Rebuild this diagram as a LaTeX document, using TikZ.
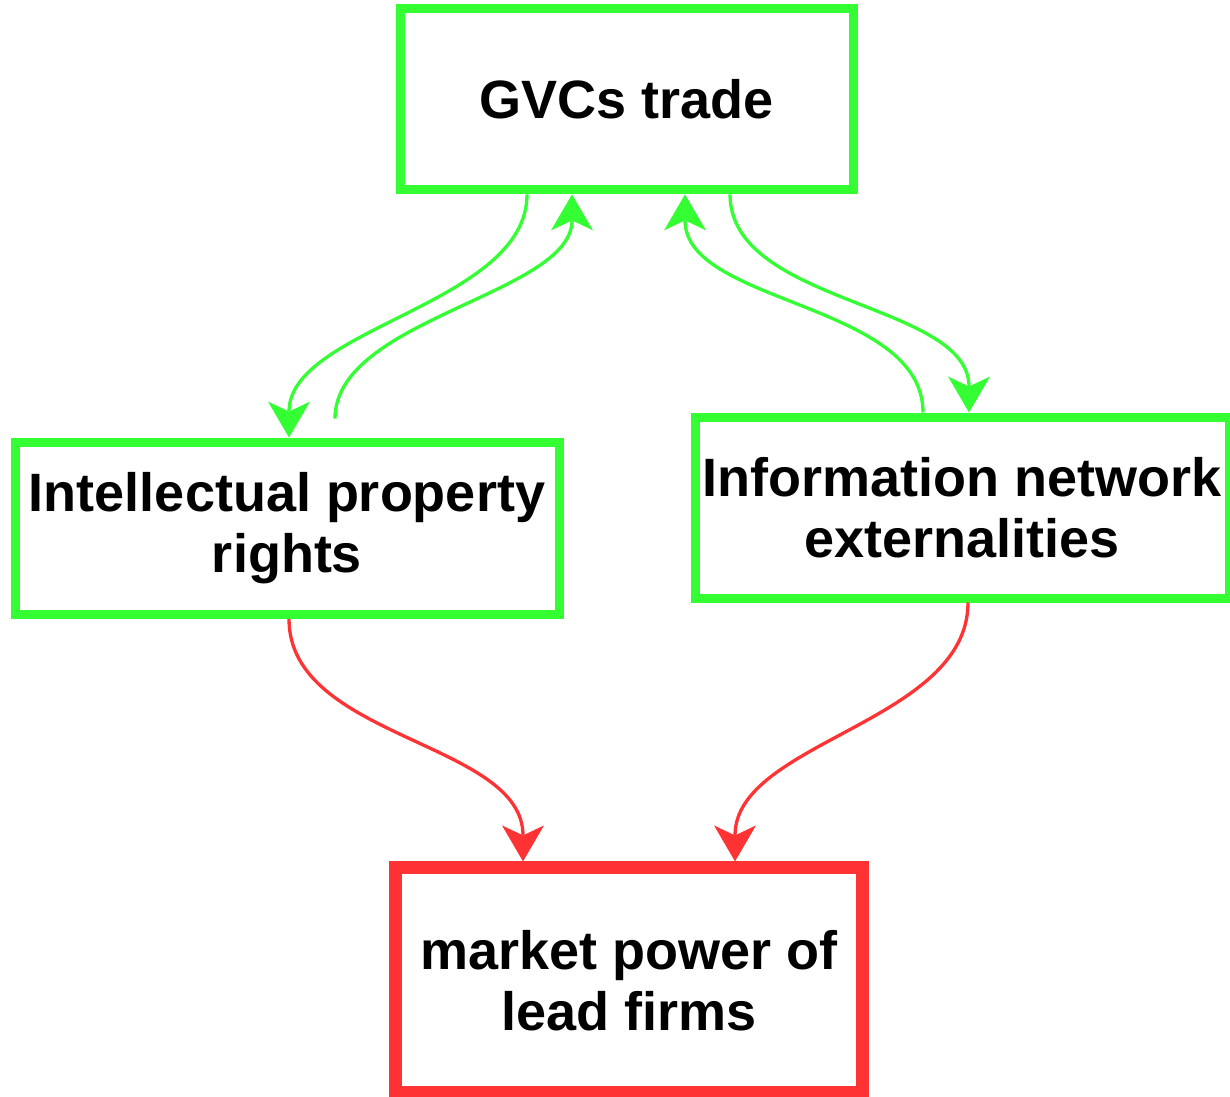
\documentclass[tikz,border=0pt]{standalone}
\usepackage{fontspec}
\setmainfont{Liberation Sans}
\usetikzlibrary{arrows.meta}
\definecolor{boxgreen}{HTML}{33FF33}
\definecolor{boxred}{HTML}{FF3333}
\tikzset{
  box/.style={draw, rectangle, inner sep=0pt, align=center, fill=white,
    font=\fontsize{54}{61}\selectfont\bfseries},
  greenbox/.style={box, draw=boxgreen, line width=9pt},
  redbox/.style={box, draw=boxred, line width=13pt},
  link/.style={line width=3.3pt,
    -{Stealth[length=36pt, width=42pt, inset=10pt, line width=0pt]}},
  greenlink/.style={link, draw=boxgreen},
  redlink/.style={link, draw=boxred},
}
\begin{document}
\begin{tikzpicture}[x=1pt, y=-1pt]
  \useasboundingbox (0,0) rectangle (1230,1096);

  % boxes
  \node[greenbox, minimum width=453pt, minimum height=181pt] (gvc) at (627,99.4) {GVCs trade};
  \node[greenbox, minimum width=544pt, minimum height=172.5pt] (ipr) at (287,528.3)
    {Intellectual property\\rights};
  \node[greenbox, minimum width=534pt, minimum height=181pt] (ine) at (962,507.5)
    {Information network\\externalities};
  \node[redbox, minimum width=467pt, minimum height=225pt] (mkt) at (629,980.4)
    {market power of\\lead firms};

  % connector end points on the box edges
  \coordinate (g1) at ([xshift=-100pt]gvc.south);
  \coordinate (g2) at ([xshift=-55pt]gvc.south);
  \coordinate (g3) at ([xshift=58pt]gvc.south);
  \coordinate (g4) at ([xshift=103pt]gvc.south);
  \coordinate (i1) at ([xshift=2pt]ipr.north);
  \coordinate (i2) at ([xshift=48pt, yshift=19pt]ipr.north);
  \coordinate (i3) at ([xshift=2pt]ipr.south);
  \coordinate (n1) at ([xshift=-39pt]ine.north);
  \coordinate (n2) at ([xshift=7pt]ine.north);
  \coordinate (n3) at ([xshift=6pt]ine.south);
  \coordinate (m1) at ([xshift=-106pt]mkt.north);
  \coordinate (m2) at ([xshift=106pt]mkt.north);

  % GVCs trade <-> intellectual property rights
  \draw[greenlink] (g1) .. controls +(0,110) and +(0,-110) .. (i1);
  \draw[greenlink] (i2) .. controls +(0,-100) and +(0,100) .. (g2);
  % GVCs trade <-> information network externalities
  \draw[greenlink] (n1) .. controls +(0,-110) and +(0,110) .. (g3);
  \draw[greenlink] (g4) .. controls +(0,110) and +(0,-110) .. (n2);
  % both drive market power
  \draw[redlink] (i3) .. controls +(0,120) and +(0,-120) .. (m1);
  \draw[redlink] (n3) .. controls +(0,120) and +(0,-120) .. (m2);
\end{tikzpicture}
\end{document}
